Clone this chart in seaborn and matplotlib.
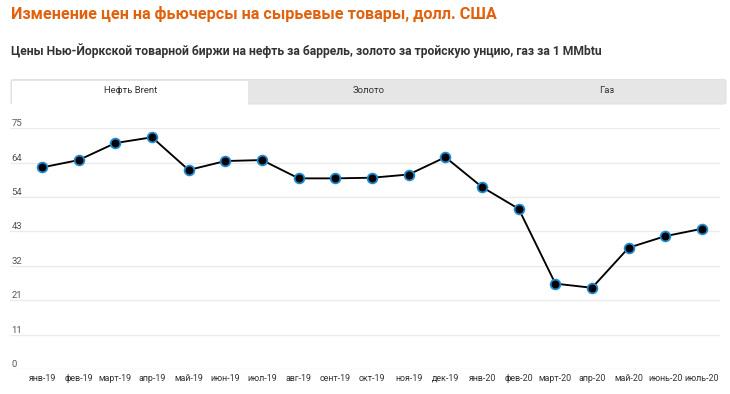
import matplotlib
matplotlib.use("Agg")
import matplotlib.pyplot as plt
import matplotlib.patches as mpatches
import seaborn as sns
import pandas as pd

months = ["янв-19", "фев-19", "март-19", "апр-19", "май-19", "июн-19", "июл-19",
          "авг-19", "сент-19", "окт-19", "ноя-19", "дек-19", "янв-20", "фев-20",
          "март-20", "апр-20", "май-20", "июнь-20", "июль-20"]
brent = [62.8, 65.1, 70.4, 72.2, 62.0, 64.8, 65.1, 59.4, 59.4, 59.6, 60.6, 66.0,
         56.7, 49.9, 26.6, 25.3, 37.8, 41.4, 43.7]
ytick_values = [0, 75 / 7, 150 / 7, 225 / 7, 300 / 7, 375 / 7, 450 / 7, 75]
ytick_labels = ["0", "11", "21", "32", "43", "54", "64", "75"]
tabs = ["Нефть Brent", "Золото", "Газ"]
title = "Изменение цен на фьючерсы на сырьевые товары, долл. США"
subtitle = "Цены Нью-Йоркской товарной биржи на нефть за баррель, золото за тройскую унцию, газ за 1 MMbtu"

sns.set_theme(style="white")
plt.rcParams["font.family"] = ["Roboto", "DejaVu Sans"]

W, H = 730, 394
fig = plt.figure(figsize=(W / 100, H / 100), dpi=100)
fig.patch.set_facecolor("white")

def fx(px):
    return px / W

def fy(py):
    return 1 - py / H

# Titles
fig.text(fx(11), fy(14), title, color="#e0620e", fontsize=11.7, fontweight="bold",
         ha="left", va="center")
fig.text(fx(11), fy(51), subtitle, color="#333333", fontsize=8.75, fontweight="bold",
         ha="left", va="center")

# Tabs
tab_left, tab_right, tab_top, tab_bot = 11, 726, 79.5, 104
bg = mpatches.FancyBboxPatch((fx(tab_left), fy(tab_bot)), fx(tab_right - tab_left),
                             (tab_bot - tab_top) / H,
                             boxstyle="round,pad=0,rounding_size=0.004",
                             transform=fig.transFigure, facecolor="#e6e6e6",
                             edgecolor="#e2e2e2", linewidth=0.8)
fig.patches.append(bg)
tab_w = (tab_right - tab_left) / 3
active = mpatches.Rectangle((fx(tab_left + 1), fy(tab_bot + 1)), fx(tab_w - 2),
                            (tab_bot - tab_top) / H, transform=fig.transFigure,
                            facecolor="white", edgecolor="none")
fig.patches.append(active)
for i, t in enumerate(tabs):
    cx = tab_left + tab_w * (i + 0.5)
    fig.text(fx(cx), fy(90.5), t, color="#333333", fontsize=6.8, ha="center", va="center")

# Plot axes
ax_left, ax_right, ax_top, ax_bot = 10, 720, 128.3, 369
ax = fig.add_axes([fx(ax_left), fy(ax_bot), fx(ax_right - ax_left), (ax_bot - ax_top) / H])
ax.set_facecolor("none")

df = pd.DataFrame({"month": months, "price": brent})
sns.lineplot(data=df, x="month", y="price", ax=ax, sort=False, color="black",
             linewidth=1.35, marker="o", markersize=7, markerfacecolor="black",
             markeredgecolor="#1f8ad2", markeredgewidth=1.3, clip_on=False, zorder=3)

ax.set_xlim(-0.873, 18.49)
ax.set_ylim(0, 75)
ax.set_xlabel("")
ax.set_ylabel("")
for s in ax.spines.values():
    s.set_visible(False)

ax.set_yticks(ytick_values)
ax.set_yticklabels(ytick_labels)
ax.yaxis.grid(True, color="#ebebeb", linewidth=1)
ax.xaxis.grid(False)
ax.tick_params(axis="y", length=0, pad=-1, labelsize=6.8, labelcolor="#555555")
for lab in ax.get_yticklabels():
    lab.set_ha("left")
    lab.set_va("bottom")
ax.tick_params(axis="x", length=0, pad=3.5, labelsize=6.4, labelcolor="#333333")

fig.savefig("out.png", dpi=100)
